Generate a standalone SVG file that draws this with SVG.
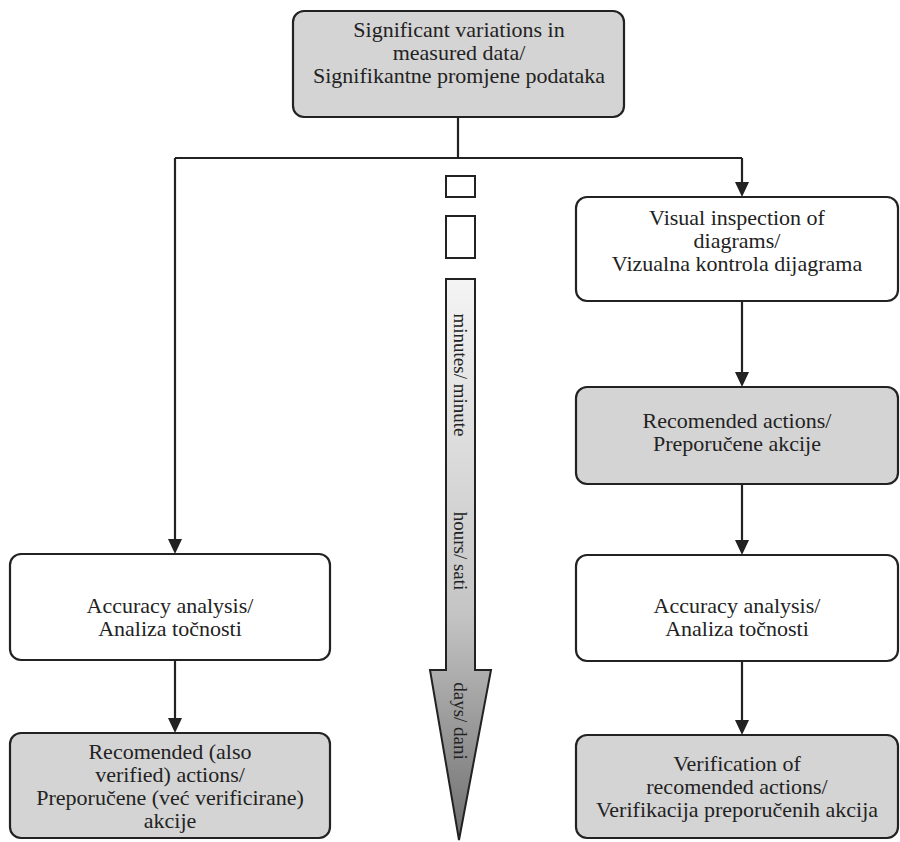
<svg xmlns="http://www.w3.org/2000/svg" width="900" height="842" viewBox="0 0 900 842">
<defs>
<style>
.box{stroke:#222;stroke-width:2.2;}
.w{fill:#fff;}
.g{fill:#d4d4d4;}
.t{font-family:'Liberation Serif','Times New Roman',serif;font-size:22px;fill:#222;text-anchor:middle;}
.r{font-size:19px;}
.c{fill:none;stroke:#222;stroke-width:2.2;}
</style>
<linearGradient id="gr" x1="0" y1="279" x2="0" y2="840" gradientUnits="userSpaceOnUse">
<stop offset="0" stop-color="#f4f4f4"/>
<stop offset="0.6" stop-color="#c4c4c4"/>
<stop offset="1" stop-color="#6e6e6e"/>
</linearGradient>
</defs>
<rect width="900" height="842" fill="#fff"/>
<g id="connectors">
<path class="c" d="M458,117 V158 M175,158 H742"/>
<path class="c" d="M175,158 V540"/>
<path d="M168,539 L182,539 L175,554 Z" fill="#222"/>
<path class="c" d="M742,158 V183"/>
<path d="M735,182 L749,182 L742,197 Z" fill="#222"/>
<path class="c" d="M742,301 V373"/>
<path d="M735,372 L749,372 L742,387 Z" fill="#222"/>
<path class="c" d="M742,484 V541"/>
<path d="M735,540 L749,540 L742,555 Z" fill="#222"/>
<path class="c" d="M742,661 V721"/>
<path d="M735,720 L749,720 L742,735 Z" fill="#222"/>
<path class="c" d="M175,660 V719"/>
<path d="M168,718 L182,718 L175,733 Z" fill="#222"/>
</g>
<g id="n_top">
<rect class="box g" x="293" y="11" width="331" height="106" rx="11"/>
<text class="t" x="459" y="37">Significant variations in</text>
<text class="t" x="459" y="60">measured data/</text>
<text class="t" x="459" y="83">Signifikantne promjene podataka</text>
</g>
<g id="n_time">
<rect x="446" y="176" width="29" height="21" fill="#fff" stroke="#222" stroke-width="2"/>
<rect x="446" y="216" width="29" height="42" fill="#fff" stroke="#222" stroke-width="2"/>
<path d="M446,279 H475 V670 L491,670 L459,840 L430,670 L446,670 Z" fill="url(#gr)" stroke="#222" stroke-width="2"/>
<text class="t r" transform="translate(454,375) rotate(90)">minutes/ minute</text>
<text class="t r" transform="translate(454,551) rotate(90)">hours/ sati</text>
<text class="t r" transform="translate(454,721) rotate(90)">days/ dani</text>
</g>
<g id="n_visual">
<rect class="box w" x="576" y="197" width="322" height="104" rx="11"/>
<text class="t" x="737" y="225">Visual inspection of</text>
<text class="t" x="737" y="248">diagrams/</text>
<text class="t" x="737" y="271">Vizualna kontrola dijagrama</text>
</g>
<g id="n_recR">
<rect class="box g" x="576" y="387" width="322" height="97" rx="11"/>
<text class="t" x="737" y="428">Recomended actions/</text>
<text class="t" x="737" y="451">Preporučene akcije</text>
</g>
<g id="n_accR">
<rect class="box w" x="576" y="555" width="322" height="106" rx="11"/>
<text class="t" x="737" y="613">Accuracy analysis/</text>
<text class="t" x="737" y="636">Analiza točnosti</text>
</g>
<g id="n_verR">
<rect class="box g" x="576" y="735" width="322" height="103" rx="11"/>
<text class="t" x="737" y="771">Verification of</text>
<text class="t" x="737" y="794">recomended actions/</text>
<text class="t" x="737" y="817">Verifikacija preporučenih akcija</text>
</g>
<g id="n_accL">
<rect class="box w" x="10" y="554" width="320" height="106" rx="11"/>
<text class="t" x="170" y="613">Accuracy analysis/</text>
<text class="t" x="170" y="636">Analiza točnosti</text>
</g>
<g id="n_recL">
<rect class="box g" x="10" y="733" width="320" height="105" rx="11"/>
<text class="t" x="170" y="759">Recomended (also</text>
<text class="t" x="170" y="782">verified) actions/</text>
<text class="t" x="170" y="805">Preporučene (već verificirane)</text>
<text class="t" x="170" y="828">akcije</text>
</g>
</svg>
